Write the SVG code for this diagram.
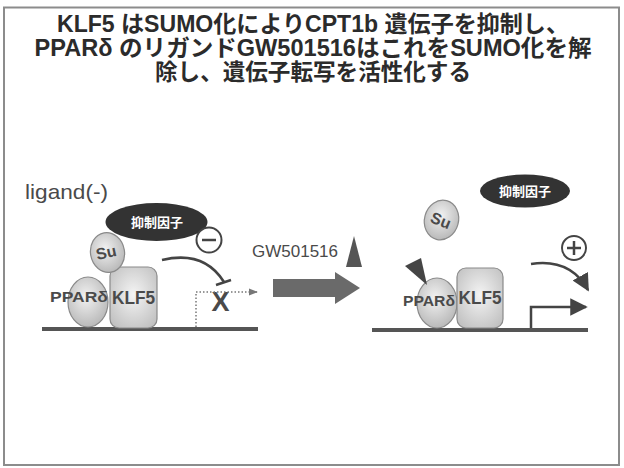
<svg xmlns="http://www.w3.org/2000/svg" width="624" height="468" viewBox="0 0 624 468">
  <style>
    .title { font-family: "Liberation Sans", "Noto Sans CJK JP", sans-serif; font-weight: bold; font-size: 23px; fill: #2b2b2b; text-anchor: middle; }
    .lbl { font-family: "Liberation Sans", "Noto Sans CJK JP", sans-serif; fill: #4a4a4a; }
    .bold { font-weight: bold; }
    .prot { stroke: #8a8a8a; stroke-width: 1.2; }
    .dna { stroke: #555; stroke-width: 4; }
    .rep { fill: #333; }
    .repText { font-family: "Noto Sans CJK JP", sans-serif; font-weight: bold; font-size: 13px; fill: #fff; text-anchor: middle; }
  </style>
  <defs>
    <radialGradient id="ball" cx="0.45" cy="0.4" r="0.65">
      <stop offset="0" stop-color="#f2f2f2"/>
      <stop offset="1" stop-color="#b5b5b5"/>
    </radialGradient>
    <radialGradient id="box" cx="0.5" cy="0.45" r="0.7">
      <stop offset="0" stop-color="#f4f4f4"/>
      <stop offset="1" stop-color="#bdbdbd"/>
    </radialGradient>
    <marker id="head" viewBox="0 0 10 10" refX="9" refY="5" markerWidth="7" markerHeight="7" orient="auto">
      <path d="M0,0 L10,5 L0,10 z" fill="#444"/>
    </marker>
    <marker id="headDot" viewBox="0 0 10 10" refX="9" refY="5" markerWidth="6" markerHeight="6" orient="auto">
      <path d="M0,1 L10,5 L0,9 z" fill="#777"/>
    </marker>
  </defs>

  <rect x="0" y="0" width="624" height="468" fill="#fff"/>
  <rect x="4" y="7.5" width="615" height="457.5" fill="none" stroke="#8c8c8c" stroke-width="2"/>

  <!-- heading -->
  <g id="title">
    <text class="title" x="313" y="32" textLength="512" lengthAdjust="spacingAndGlyphs">KLF5 はSUMO化によりCPT1b 遺伝子を抑制し、</text>
    <text class="title" x="313" y="56" textLength="557" lengthAdjust="spacingAndGlyphs">PPARδ のリガンドGW501516はこれをSUMO化を解</text>
    <text class="title" x="313" y="80" textLength="316" lengthAdjust="spacingAndGlyphs">除し、遺伝子転写を活性化する</text>
  </g>

  <!-- left panel: no ligand -->
  <text id="ligand-label" class="lbl" x="25" y="199" font-size="21" textLength="83" lengthAdjust="spacingAndGlyphs">ligand(-)</text>

  <g id="dna-left">
    <line class="dna" x1="42" y1="329" x2="258" y2="329"/>
  </g>

  <g id="ppar-left">
    <ellipse class="prot" cx="88" cy="302" rx="20" ry="25" fill="url(#ball)"/>
    <text class="lbl bold" x="50" y="302" font-size="14" textLength="58" lengthAdjust="spacingAndGlyphs">PPARδ</text>
  </g>

  <g id="klf5-left">
    <rect class="prot" x="110" y="267" width="47" height="61" rx="9" fill="url(#box)"/>
    <text class="lbl bold" x="133.5" y="304" font-size="19" text-anchor="middle" textLength="43" lengthAdjust="spacingAndGlyphs" fill="#444">KLF5</text>
  </g>

  <g id="su-left">
    <ellipse class="prot" cx="107.5" cy="252.5" rx="17" ry="20" fill="url(#ball)" transform="rotate(-10 107.5 252.5)"/>
    <text class="lbl bold" x="106" y="258" font-size="16" text-anchor="middle" fill="#555" transform="rotate(-12 106 252)">Su</text>
  </g>

  <g id="repressor-left">
    <ellipse class="rep" cx="156.5" cy="222" rx="51" ry="19"/>
    <text class="repText" x="157" y="227">抑制因子</text>
  </g>

  <g id="minus">
    <circle cx="209" cy="240" r="12.5" fill="#fff" stroke="#444" stroke-width="2"/>
    <line x1="202" y1="240" x2="216" y2="240" stroke="#444" stroke-width="2.5"/>
  </g>

  <g id="blocked-gene">
    <text class="lbl bold" x="220.5" y="311" font-size="27" text-anchor="middle" fill="#555">X</text>
  </g>

  <!-- right panel: with GW501516 -->
  <g id="dna-right">
    <line class="dna" x1="372" y1="330" x2="588" y2="330"/>
  </g>

  <g id="ppar-right">
    <ellipse class="prot" cx="437" cy="303" rx="20" ry="25" fill="url(#ball)"/>
    <text class="lbl bold" x="403" y="306" font-size="14" textLength="52" lengthAdjust="spacingAndGlyphs">PPARδ</text>
  </g>

  <g id="ligand-bound">
    <polygon points="405,266 421,258 427,285" fill="#454545"/>
  </g>

  <g id="klf5-right">
    <rect class="prot" x="457" y="268" width="46" height="60" rx="9" fill="url(#box)"/>
    <text class="lbl bold" x="480" y="304" font-size="19" text-anchor="middle" textLength="43" lengthAdjust="spacingAndGlyphs" fill="#444">KLF5</text>
  </g>

  <g id="su-right">
    <ellipse class="prot" cx="441.5" cy="220" rx="17" ry="20" fill="url(#ball)" transform="rotate(15 441.5 220)"/>
    <text class="lbl bold" x="441" y="226" font-size="16" text-anchor="middle" fill="#555" transform="rotate(22 441 220)">Su</text>
  </g>

  <g id="repressor-right">
    <ellipse class="rep" cx="525" cy="191" rx="45" ry="16.5"/>
    <text class="repText" x="525" y="196">抑制因子</text>
  </g>

  <g id="plus">
    <circle cx="574" cy="248" r="12" fill="#fff" stroke="#444" stroke-width="2"/>
    <line x1="567" y1="248" x2="581" y2="248" stroke="#444" stroke-width="2.5"/>
    <line x1="574" y1="241" x2="574" y2="255" stroke="#444" stroke-width="2.5"/>
  </g>

  <g id="gw-ligand">
    <text class="lbl" x="252" y="257" font-size="17" textLength="86" lengthAdjust="spacingAndGlyphs" fill="#555">GW501516</text>
    <polygon points="354,236 346,267 362,267" fill="#555"/>
  </g>

  <!-- connectors -->
  <g id="connectors" fill="none">
    <!-- repression arc ending in a bar -->
    <path d="M162,260 Q204,250 224,282" stroke="#444" stroke-width="2.5"/>
    <line x1="216" y1="285" x2="231" y2="280" stroke="#444" stroke-width="2.5"/>
    <!-- silent transcription start -->
    <path d="M196,327 L196,292 L257,292" stroke="#777" stroke-width="1.5" stroke-dasharray="1.5 2" marker-end="url(#headDot)"/>
    <!-- treatment arrow -->
    <polygon points="273,279 335,279 335,272 360,288 335,304 335,297 273,297" fill="#6a6a6a"/>
    <!-- activation arc -->
    <path d="M531,264 Q570,258 588,290" stroke="#444" stroke-width="2.5" marker-end="url(#head)"/>
    <!-- active transcription start -->
    <path d="M531,328 L531,307 L586,307" stroke="#444" stroke-width="2.5" marker-end="url(#head)"/>
  </g>
</svg>
